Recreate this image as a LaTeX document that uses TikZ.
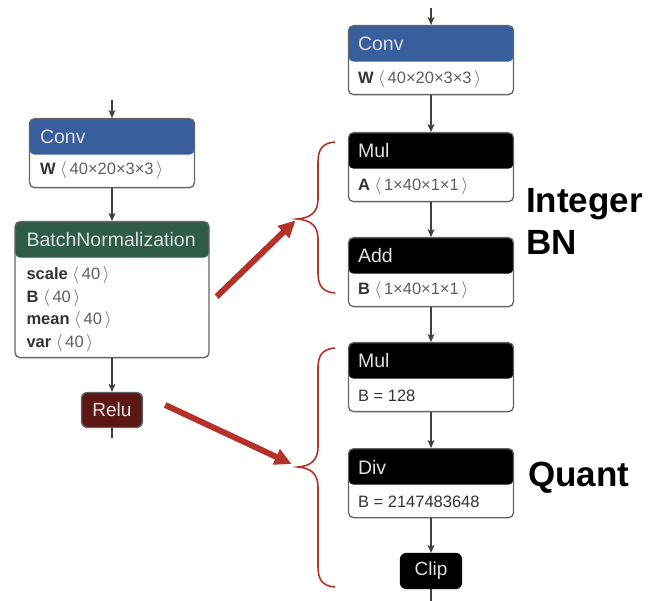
\documentclass[tikz,border=0pt]{standalone}
\usepackage{fontspec}
\setmainfont{Liberation Sans}
\usetikzlibrary{arrows.meta}

\definecolor{convblue}{RGB}{56,94,158}
\definecolor{bngreen}{RGB}{46,92,70}
\definecolor{relured}{RGB}{92,24,20}
\definecolor{markred}{RGB}{180,50,42}
\definecolor{edgegray}{RGB}{100,100,100}
\definecolor{dimgray}{RGB}{95,95,95}

\newcommand{\tensordims}[1]{{\color{dimgray}$\langle$\,#1\,$\rangle$}}

\begin{document}
\begin{tikzpicture}[x=1pt,y=-1pt,
  op/.style={draw=edgegray, line width=1.3pt, rounded corners=5pt, fill=white,
    minimum width=165pt, minimum height=69pt, inner sep=0pt, anchor=north,
    path picture={\fill[#1] (path picture bounding box.north west)
      rectangle ([yshift=-36pt]path picture bounding box.north east);}},
  title/.style={anchor=west, inner sep=0pt, text=white!88!black,
    font=\fontsize{19.5}{21}\selectfont},
  attr/.style={anchor=west, inner sep=0pt, align=left, text=black!80,
    font=\fontsize{16.5}{22.5}\selectfont},
  pill/.style={rounded corners=6pt, fill=#1, draw=edgegray, line width=1.3pt,
    minimum width=61pt, minimum height=35pt, text=white!88!#1,
    font=\fontsize{19}{21}\selectfont},
  flow/.style={-{Stealth[length=8pt,width=7pt,inset=2pt]}, line width=1.2pt, black!75},
  wire/.style={line width=1.2pt, black!75},
  hint/.style={-{Triangle[length=17pt,width=16pt]}, line width=6pt, markred},
  bracket/.style={markred, line width=1.6pt},
  tag/.style={anchor=west, align=left, inner sep=0pt,
    font=\fontsize{35}{42}\selectfont\bfseries}
]
\useasboundingbox (0,0) rectangle (648,601);

% original graph
\node[op=convblue] (conv1) at (112,118) {};
\node[title] (conv1-t) at ([xshift=11pt,yshift=-19pt]conv1.north west) {Conv};
\node[attr] (conv1-w) at ([xshift=11pt,yshift=-52pt]conv1.north west) {\textbf{W} \tensordims{40×20×3×3}};

\node[op=bngreen, minimum width=194pt, minimum height=136pt] (bn) at (112,221) {};
\node[title] (bn-t) at ([xshift=12pt,yshift=-19pt]bn.north west) {BatchNormalization};
\node[attr] (bn-p) at ([xshift=12pt,yshift=-88pt]bn.north west)
  {\textbf{scale} \tensordims{40}\\ \textbf{B} \tensordims{40}\\
   \textbf{mean} \tensordims{40}\\ \textbf{var} \tensordims{40}};

\node[pill=relured] (relu) at (112,410) {Relu};

\coordinate (in1) at (112,100);
\coordinate (out1) at (112,438);
\draw[flow] (in1) -- (conv1.north);
\draw[flow] (conv1.south) -- (bn.north);
\draw[flow] (bn.south) -- (relu.north);
\draw[wire] (relu.south) -- (out1);

% rewritten graph
\node[op=convblue] (conv2) at (431,25) {};
\node[title] (conv2-t) at ([xshift=10pt,yshift=-19pt]conv2.north west) {Conv};
\node[attr] (conv2-w) at ([xshift=10pt,yshift=-54pt]conv2.north west) {\textbf{W} \tensordims{40×20×3×3}};

\node[op=black] (mul1) at (431,132) {};
\node[title] (mul1-t) at ([xshift=10pt,yshift=-19pt]mul1.north west) {Mul};
\node[attr] (mul1-a) at ([xshift=10pt,yshift=-54pt]mul1.north west) {\textbf{A} \tensordims{1×40×1×1}};

\node[op=black] (add1) at (431,237) {};
\node[title] (add1-t) at ([xshift=10pt,yshift=-19pt]add1.north west) {Add};
\node[attr] (add1-b) at ([xshift=10pt,yshift=-53pt]add1.north west) {\textbf{B} \tensordims{1×40×1×1}};

\node[op=black] (mul2) at (431,342) {};
\node[title] (mul2-t) at ([xshift=10pt,yshift=-19pt]mul2.north west) {Mul};
\node[attr] (mul2-b) at ([xshift=10pt,yshift=-54pt]mul2.north west) {B = 128};

\node[op=black] (div1) at (431,448) {};
\node[title] (div1-t) at ([xshift=10pt,yshift=-19pt]div1.north west) {Div};
\node[attr] (div1-b) at ([xshift=10pt,yshift=-54pt]div1.north west) {B = 2147483648};

\node[pill=black, draw=black] (clip) at (431,571) {Clip};

\coordinate (in2) at (431,8);
\coordinate (out2) at (431,601);
\draw[flow] (in2) -- (conv2.north);
\draw[flow] (conv2.south) -- (mul1.north);
\draw[flow] (mul1.south) -- (add1.north);
\draw[flow] (add1.south) -- (mul2.north);
\draw[flow] (mul2.south) -- (div1.north);
\draw[flow] (div1.south) -- (clip.north);
\draw[wire] (clip.south) -- (out2);

% braces
\coordinate (bntip) at (297,219);
\coordinate (qtip) at (298,467);
\draw[bracket] (335,142) .. controls (322,143) and (318,150) .. (318,162) -- (318,199)
  .. controls (318,212) and (311,218) .. (bntip)
  .. controls (311,220) and (318,226) .. (318,239) -- (318,273)
  .. controls (318,285) and (322,292) .. (335,293);
\draw[bracket] (335,348) .. controls (322,349) and (318,356) .. (318,368) -- (318,447)
  .. controls (318,460) and (311,466) .. (qtip)
  .. controls (311,468) and (318,474) .. (318,487) -- (318,567)
  .. controls (318,579) and (322,586) .. (335,587);

% red arrows
\draw[hint, shorten >=2pt] ([xshift=7pt,yshift=-7pt]bn.east) -- (bntip);
\draw[hint, shorten >=7pt] ([xshift=22pt,yshift=5pt]relu.east) -- (qtip);

% labels
\node[tag] (intbn) at (526,221) {Integer\\BN};
\node[tag] (quant) at (528,478) {Quant};

\end{tikzpicture}
\end{document}
